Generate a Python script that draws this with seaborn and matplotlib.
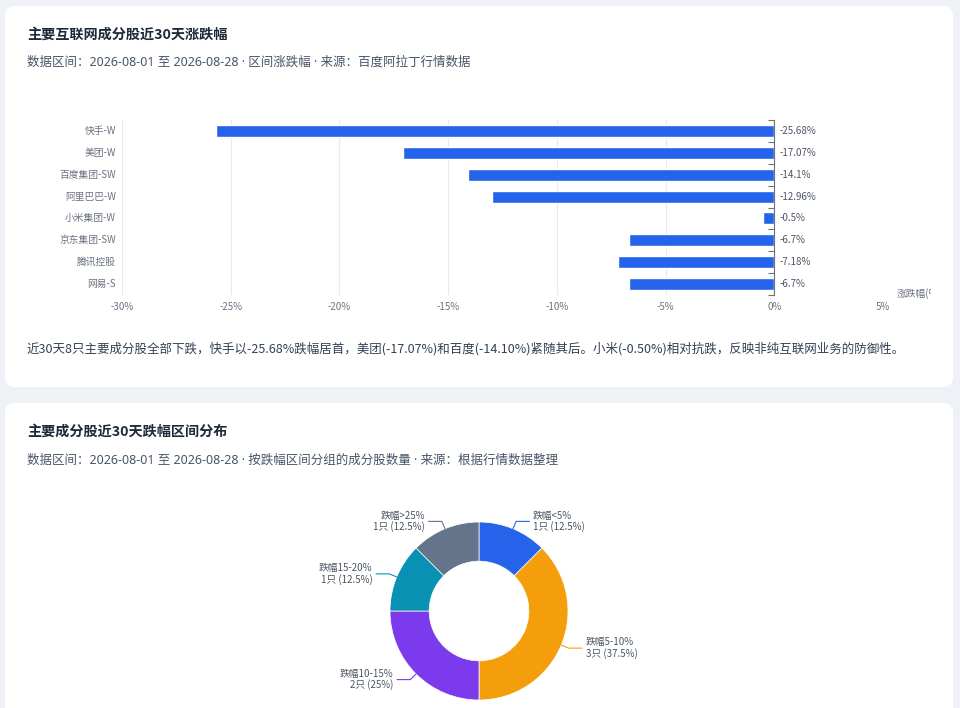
import matplotlib
matplotlib.use("Agg")
import numpy as np
import pandas as pd
import seaborn as sns
from matplotlib import pyplot as plt
from matplotlib.patches import FancyBboxPatch
from matplotlib.transforms import blended_transform_factory, Bbox, TransformedBbox

# ---- data ----
stocks = ["快手-W", "美团-W", "百度集团-SW", "阿里巴巴-W", "小米集团-W", "京东集团-SW", "腾讯控股", "网易-S"]
changes = [-25.68, -17.07, -14.1, -12.96, -0.5, -6.7, -7.18, -6.7]
x_ticks = [-30, -25, -20, -15, -10, -5, 0, 5]

buckets = ["跌幅<5%", "跌幅5-10%", "跌幅10-15%", "跌幅15-20%", "跌幅>25%"]
bucket_counts = [1, 3, 2, 1, 1]
bucket_colors = ["#2563eb", "#f59e0b", "#7c3aed", "#0891b2", "#64748b"]

BAR_COLOR = "#2563eb"
TITLE_C = "#1e293b"
SUB_C = "#475569"
TICK_C = "#6b7280"
AXIS_C = "#6e7079"
LATIN_FIRST = ["Noto Sans", "Noto Sans CJK SC"]

sns.set_theme(style="white")
plt.rcParams["font.family"] = ["Noto Sans CJK SC", "DejaVu Sans"]
plt.rcParams["axes.unicode_minus"] = False

W, H = 9.6, 7.08
fig = plt.figure(figsize=(W, H), dpi=100, facecolor="#eef2f7")


def fx(x):
    return x / 960


def fy(y):
    return 1 - y / 708


def card(top, bottom):
    p = FancyBboxPatch((0.05, H - bottom / 100), 9.48, (bottom - top) / 100,
                       boxstyle="round,pad=0,rounding_size=0.1",
                       transform=fig.dpi_scale_trans, facecolor="white",
                       edgecolor="none", zorder=0)
    fig.add_artist(p)


card(6, 387)
card(403, 740)

# ---- card 1 header ----
fig.text(fx(27), fy(35), "主要互联网成分股近30天涨跌幅", fontsize=10.2, fontweight="bold",
         color=TITLE_C, va="center")
fig.text(fx(27), fy(62), "数据区间：2026-08-01 至 2026-08-28 · 区间涨跌幅 · 来源：百度阿拉丁行情数据",
         fontsize=9, color=SUB_C, va="center", family=LATIN_FIRST)

# ---- bar chart ----
ax = fig.add_axes([fx(122), fy(295), fx(883) - fx(122), fy(120) - fy(295)])
df = pd.DataFrame({"stock": stocks, "change": changes})
sns.barplot(data=df, x="change", y="stock", orient="h", color=BAR_COLOR,
            saturation=1, width=0.55, ax=ax)
ax.set_xlim(x_ticks[0], x_ticks[-1])
ax.set_xticks(x_ticks)
ax.set_xticklabels([f"{t}%" for t in x_ticks])
ax.tick_params(axis="x", length=0, labelsize=7, labelcolor=TICK_C, pad=5)
ax.grid(axis="x", color="#e5e9f0", lw=0.8)
ax.grid(axis="y", visible=False)
ax.set_axisbelow(True)
for s in ["top", "right", "bottom"]:
    ax.spines[s].set_visible(False)
ax.spines["left"].set_position(("data", 0))
ax.spines["left"].set_color(AXIS_C)
ax.spines["left"].set_linewidth(0.8)
ax.set_yticks(range(len(stocks)))
ax.set_yticklabels([])
ax.set_yticks(np.arange(-0.5, len(stocks), 1), minor=True)
ax.tick_params(axis="y", which="major", length=0)
ax.tick_params(axis="y", which="minor", length=4, width=0.8, color=AXIS_C, direction="out", left=True)
ax.set_xlabel("")
ax.set_ylabel("")

lbl_tr = blended_transform_factory(ax.transAxes, ax.transData)
for i, (name, v) in enumerate(zip(stocks, changes)):
    ax.annotate(name, xy=(0, i), xycoords=lbl_tr, xytext=(-6, 0), textcoords="offset pixels",
                ha="right", va="center", fontsize=7, color=TICK_C, annotation_clip=False)
    ax.annotate(f"{v:g}%", xy=(0, i), xycoords="data", xytext=(5, 0), textcoords="offset pixels",
                ha="left", va="center", fontsize=7, color="#4b5563", annotation_clip=False)

# axis name, cut off at the chart container edge as in the original
name_t = fig.text(fx(897), fy(294), "涨跌幅(%)", fontsize=7, color=TICK_C, va="center")
name_t.set_clip_box(TransformedBbox(Bbox.from_extents(0, 0, fx(931), 1), fig.transFigure))
name_t.set_clip_on(True)

fig.text(fx(27), fy(349),
         "近30天8只主要成分股全部下跌，快手以-25.68%跌幅居首，美团(-17.07%)和百度(-14.10%)紧随其后。"
         "小米(-0.50%)相对抗跌，反映非纯互联网业务的防御性。",
         fontsize=9, color="#334155", va="center")

# ---- card 2 header ----
fig.text(fx(27), fy(432), "主要成分股近30天跌幅区间分布", fontsize=10.2, fontweight="bold",
         color=TITLE_C, va="center")
fig.text(fx(27), fy(460), "数据区间：2026-08-01 至 2026-08-28 · 按跌幅区间分组的成分股数量 · 来源：根据行情数据整理",
         fontsize=9, color=SUB_C, va="center", family=LATIN_FIRST)

# ---- donut ----
cx, cy, r_px, half = 479, 611, 89, 160
pax = fig.add_axes([fx(cx - half), fy(cy + half), fx(2 * half), (2 * half) / 708])
wedges, _ = pax.pie(bucket_counts, colors=bucket_colors, startangle=90, counterclock=False,
                    radius=1, wedgeprops=dict(width=0.44, edgecolor="white", linewidth=0.5))
lim = half / r_px
pax.set_xlim(-lim, lim)
pax.set_ylim(-lim, lim)
pax.set_aspect("equal")
pax.axis("off")

total = sum(bucket_counts)
for w, name, n, col in zip(wedges, buckets, bucket_counts, bucket_colors):
    ang = np.deg2rad((w.theta1 + w.theta2) / 2)
    c, s = np.cos(ang), np.sin(ang)
    side = 1 if c >= 0 else -1
    p0 = (c, s)
    p1 = (c * 1.09, s * 1.09)
    p2 = (p1[0] + side * 0.15, p1[1])
    pax.plot([p0[0], p1[0], p2[0]], [p0[1], p1[1], p2[1]], color=col, lw=0.8, clip_on=False)
    pct = n / total * 100
    pax.text(p2[0] + side * 0.04, p2[1], f"{name}\n{n}只 ({pct:g}%)",
             ha="left" if side > 0 else "right", va="center",
             multialignment="left" if side > 0 else "right",
             fontsize=7, color="#4b5563", linespacing=1.05, clip_on=False)

fig.savefig("out.png", dpi=100, facecolor=fig.get_facecolor())
